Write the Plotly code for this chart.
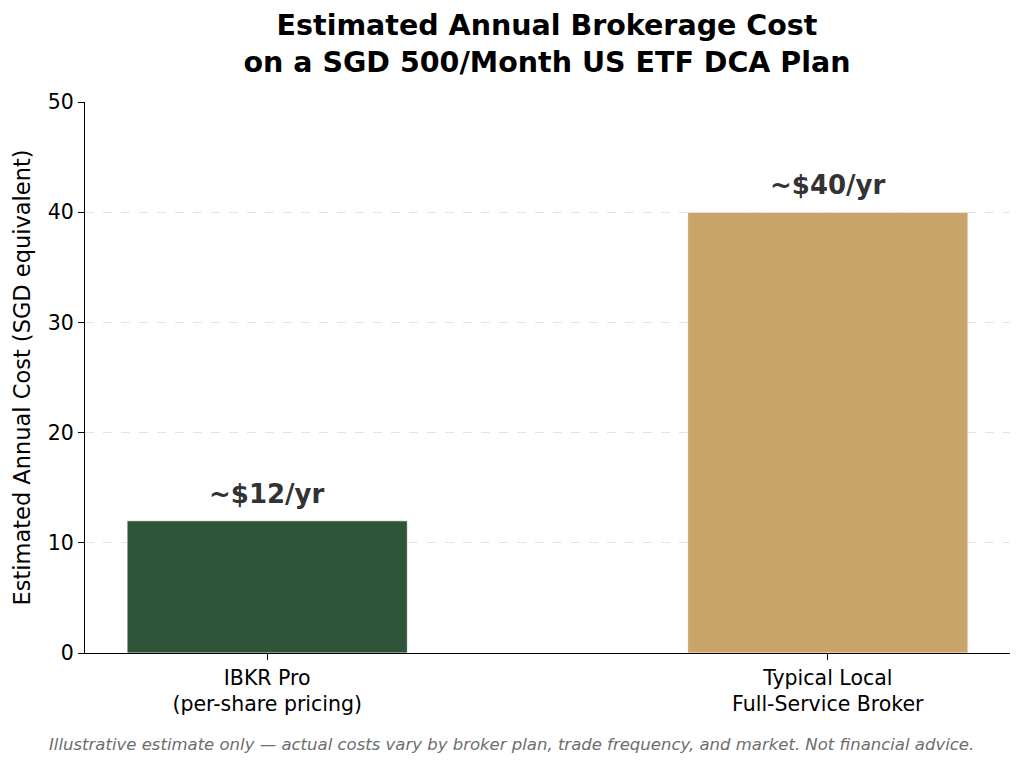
import plotly.graph_objects as go

categories = ["IBKR Pro<br>(per-share pricing)", "Typical Local<br>Full-Service Broker"]
values = [12, 40]
labels = ["~$12/yr", "~$40/yr"]
colors = ["#2f543a", "#c9a56b"]
y_ticks = [0, 10, 20, 30, 40, 50]

FONT = "DejaVu Sans"

fig = go.Figure()
fig.add_trace(go.Bar(
    x=[0, 1], y=values, width=0.5,
    marker=dict(color=colors, line=dict(color="white", width=0.8)),
    hoverinfo="skip",
))

for i, (v, lab) in enumerate(zip(values, labels)):
    fig.add_annotation(x=i, y=v, text="<b>" + lab + "</b>", showarrow=False,
                       xanchor="center", yanchor="middle", yshift=27,
                       font=dict(family=FONT, size=26, color="#333333"))

fig.add_annotation(xref="paper", yref="paper", x=0.4616, y=-0.145,
                   text="<i>Illustrative estimate only \u2014 actual costs vary by broker plan, trade frequency, and market. Not financial advice.</i>",
                   showarrow=False, xanchor="center", yanchor="top",
                   font=dict(family=FONT, size=16.5, color="#6e6e6e"))

fig.update_layout(
    width=1016, height=759,
    paper_bgcolor="white", plot_bgcolor="white",
    margin=dict(l=77, r=14, t=94, b=114),
    showlegend=False,
    font=dict(family=FONT, size=20, color="black"),
    title=dict(text="<b>Estimated Annual Brokerage Cost<br>on a SGD 500/Month US ETF DCA Plan</b>",
               x=0.5305, xanchor="center", y=0.965, yanchor="top",
               font=dict(family=FONT, size=28.5, color="black")),
    xaxis=dict(range=[-0.325, 1.325], tickmode="array", tickvals=[0, 1], ticktext=categories,
               showgrid=False, zeroline=False, showline=True, linecolor="black", linewidth=1.2,
               ticks="outside", ticklen=6, tickcolor="black", tickfont=dict(size=20.5)),
    yaxis=dict(range=[0, 50], tickmode="array", tickvals=y_ticks,
               showgrid=True, gridcolor="#e3e3e3", griddash="dash", gridwidth=1,
               zeroline=False, showline=True, linecolor="black", linewidth=1.2,
               ticks="outside", ticklen=6, tickcolor="black", tickfont=dict(size=20.5),
               title=dict(text="Estimated Annual Cost (SGD equivalent)", font=dict(size=22.5), standoff=10)),
)

fig.write_html("out.html")
